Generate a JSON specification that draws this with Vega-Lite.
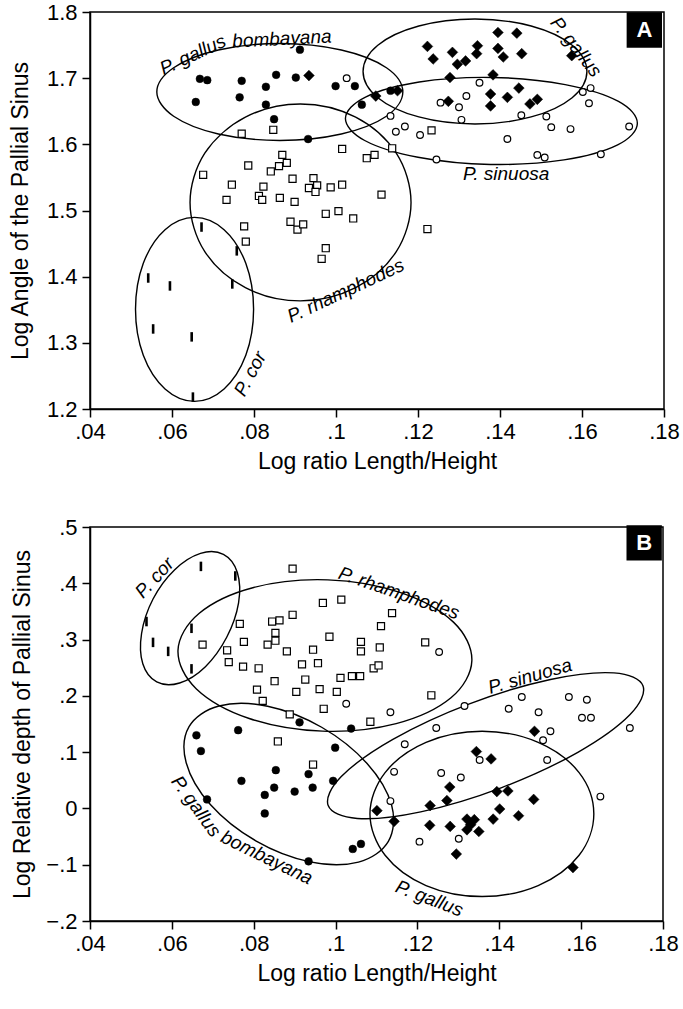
{
"$schema": "https://vega.github.io/schema/vega-lite/v6.json",
"background": "white",
"padding": {"left": 8, "top": 0, "right": 5, "bottom": 5},
"config": {
  "font": "Liberation Sans",
  "view": {"stroke": "black", "strokeWidth": 1.5},
  "axis": {"grid": false, "domainColor": "black", "domainWidth": 1.5, "tickColor": "black", "tickWidth": 1.5, "tickSize": 8, "labelColor": "black", "titleColor": "black", "labelFont": "Liberation Sans", "titleFont": "Liberation Sans", "labelFontSize": 22, "titleFontSize": 23, "titleFontWeight": "normal", "labelFlush": false, "labelOverlap": false},
  "axisX": {"labelAngle": 0},
  "concat": {"spacing": 41}
},
"datasets": {
  "ptsA": [
    {"sp":"bombayana","x":0.0668,"y":1.699},{"sp":"bombayana","x":0.0686,"y":1.697},{"sp":"bombayana","x":0.0658,"y":1.664},{"sp":"bombayana","x":0.0770,"y":1.696},{"sp":"bombayana","x":0.0765,"y":1.671},{"sp":"bombayana","x":0.0829,"y":1.687},{"sp":"bombayana","x":0.0829,"y":1.660},{"sp":"bombayana","x":0.0849,"y":1.638},{"sp":"bombayana","x":0.0854,"y":1.705},{"sp":"bombayana","x":0.0902,"y":1.701},{"sp":"bombayana","x":0.0912,"y":1.743},{"sp":"bombayana","x":0.0932,"y":1.608},{"sp":"bombayana","x":0.0999,"y":1.688},{"sp":"bombayana","x":0.1046,"y":1.688},{"sp":"bombayana","x":0.1063,"y":1.660},{"sp":"bombayana","x":0.1133,"y":1.681},
    {"sp":"gallus","x":0.0934,"y":1.704},{"sp":"gallus","x":0.1097,"y":1.673},{"sp":"gallus","x":0.1150,"y":1.681},{"sp":"gallus","x":0.1395,"y":1.769},{"sp":"gallus","x":0.1441,"y":1.768},{"sp":"gallus","x":0.1223,"y":1.748},{"sp":"gallus","x":0.1237,"y":1.729},{"sp":"gallus","x":0.1284,"y":1.739},{"sp":"gallus","x":0.1296,"y":1.721},{"sp":"gallus","x":0.1316,"y":1.726},{"sp":"gallus","x":0.1345,"y":1.749},{"sp":"gallus","x":0.1343,"y":1.737},{"sp":"gallus","x":0.1395,"y":1.745},{"sp":"gallus","x":0.1408,"y":1.732},{"sp":"gallus","x":0.1453,"y":1.737},{"sp":"gallus","x":0.1575,"y":1.734},{"sp":"gallus","x":0.1278,"y":1.701},{"sp":"gallus","x":0.1383,"y":1.705},{"sp":"gallus","x":0.1274,"y":1.665},{"sp":"gallus","x":0.1377,"y":1.676},{"sp":"gallus","x":0.1377,"y":1.658},{"sp":"gallus","x":0.1418,"y":1.671},{"sp":"gallus","x":0.1446,"y":1.685},{"sp":"gallus","x":0.1473,"y":1.661},{"sp":"gallus","x":0.1491,"y":1.668},
    {"sp":"sinuosa","x":0.1026,"y":1.700},{"sp":"sinuosa","x":0.1133,"y":1.643},{"sp":"sinuosa","x":0.1146,"y":1.619},{"sp":"sinuosa","x":0.1168,"y":1.627},{"sp":"sinuosa","x":0.1205,"y":1.614},{"sp":"sinuosa","x":0.1245,"y":1.577},{"sp":"sinuosa","x":0.1255,"y":1.663},{"sp":"sinuosa","x":0.1300,"y":1.656},{"sp":"sinuosa","x":0.1318,"y":1.673},{"sp":"sinuosa","x":0.1306,"y":1.637},{"sp":"sinuosa","x":0.1350,"y":1.693},{"sp":"sinuosa","x":0.1418,"y":1.608},{"sp":"sinuosa","x":0.1452,"y":1.644},{"sp":"sinuosa","x":0.1513,"y":1.642},{"sp":"sinuosa","x":0.1525,"y":1.626},{"sp":"sinuosa","x":0.1572,"y":1.623},{"sp":"sinuosa","x":0.1491,"y":1.584},{"sp":"sinuosa","x":0.1509,"y":1.580},{"sp":"sinuosa","x":0.1602,"y":1.679},{"sp":"sinuosa","x":0.1621,"y":1.685},{"sp":"sinuosa","x":0.1617,"y":1.662},{"sp":"sinuosa","x":0.1646,"y":1.585},{"sp":"sinuosa","x":0.1715,"y":1.627},
    {"sp":"rhamphodes","x":0.0770,"y":1.616},{"sp":"rhamphodes","x":0.0847,"y":1.622},{"sp":"rhamphodes","x":0.1015,"y":1.593},{"sp":"rhamphodes","x":0.0676,"y":1.554},{"sp":"rhamphodes","x":0.0786,"y":1.568},{"sp":"rhamphodes","x":0.0869,"y":1.584},{"sp":"rhamphodes","x":0.0880,"y":1.572},{"sp":"rhamphodes","x":0.0861,"y":1.567},{"sp":"rhamphodes","x":0.0841,"y":1.559},{"sp":"rhamphodes","x":0.0746,"y":1.539},{"sp":"rhamphodes","x":0.0823,"y":1.536},{"sp":"rhamphodes","x":0.0894,"y":1.548},{"sp":"rhamphodes","x":0.0945,"y":1.549},{"sp":"rhamphodes","x":0.0934,"y":1.534},{"sp":"rhamphodes","x":0.0954,"y":1.538},{"sp":"rhamphodes","x":0.0950,"y":1.528},{"sp":"rhamphodes","x":0.0987,"y":1.535},{"sp":"rhamphodes","x":0.1015,"y":1.539},{"sp":"rhamphodes","x":0.0733,"y":1.516},{"sp":"rhamphodes","x":0.0812,"y":1.522},{"sp":"rhamphodes","x":0.0820,"y":1.516},{"sp":"rhamphodes","x":0.0863,"y":1.519},{"sp":"rhamphodes","x":0.0899,"y":1.513},{"sp":"rhamphodes","x":0.0975,"y":1.495},{"sp":"rhamphodes","x":0.1006,"y":1.499},{"sp":"rhamphodes","x":0.1042,"y":1.488},{"sp":"rhamphodes","x":0.0776,"y":1.476},{"sp":"rhamphodes","x":0.0780,"y":1.453},{"sp":"rhamphodes","x":0.0889,"y":1.483},{"sp":"rhamphodes","x":0.0906,"y":1.471},{"sp":"rhamphodes","x":0.0920,"y":1.479},{"sp":"rhamphodes","x":0.0975,"y":1.443},{"sp":"rhamphodes","x":0.0965,"y":1.427},{"sp":"rhamphodes","x":0.1111,"y":1.524},{"sp":"rhamphodes","x":0.1223,"y":1.472},{"sp":"rhamphodes","x":0.1233,"y":1.621},{"sp":"rhamphodes","x":0.1137,"y":1.594},{"sp":"rhamphodes","x":0.1075,"y":1.579},{"sp":"rhamphodes","x":0.1094,"y":1.584},
    {"sp":"cor","x":0.0672,"y":1.475},{"sp":"cor","x":0.0758,"y":1.439},{"sp":"cor","x":0.0542,"y":1.398},{"sp":"cor","x":0.0595,"y":1.386},{"sp":"cor","x":0.0747,"y":1.389},{"sp":"cor","x":0.0554,"y":1.321},{"sp":"cor","x":0.0648,"y":1.309},{"sp":"cor","x":0.0651,"y":1.218}
  ],
  "ptsB": [
    {"sp":"cor","x":0.0671,"y":0.430},{"sp":"cor","x":0.0755,"y":0.413},{"sp":"cor","x":0.0538,"y":0.332},{"sp":"cor","x":0.0554,"y":0.295},{"sp":"cor","x":0.0591,"y":0.279},{"sp":"cor","x":0.0648,"y":0.320},{"sp":"cor","x":0.0648,"y":0.248},
    {"sp":"rhamphodes","x":0.0895,"y":0.426},{"sp":"rhamphodes","x":0.0969,"y":0.365},{"sp":"rhamphodes","x":0.1014,"y":0.371},{"sp":"rhamphodes","x":0.0766,"y":0.328},{"sp":"rhamphodes","x":0.0845,"y":0.332},{"sp":"rhamphodes","x":0.0863,"y":0.334},{"sp":"rhamphodes","x":0.0895,"y":0.344},{"sp":"rhamphodes","x":0.0853,"y":0.312},{"sp":"rhamphodes","x":0.0853,"y":0.298},{"sp":"rhamphodes","x":0.0834,"y":0.291},{"sp":"rhamphodes","x":0.0776,"y":0.296},{"sp":"rhamphodes","x":0.0675,"y":0.291},{"sp":"rhamphodes","x":0.0735,"y":0.281},{"sp":"rhamphodes","x":0.0881,"y":0.279},{"sp":"rhamphodes","x":0.0945,"y":0.282},{"sp":"rhamphodes","x":0.0985,"y":0.305},{"sp":"rhamphodes","x":0.1062,"y":0.296},{"sp":"rhamphodes","x":0.1062,"y":0.279},{"sp":"rhamphodes","x":0.0739,"y":0.260},{"sp":"rhamphodes","x":0.0774,"y":0.252},{"sp":"rhamphodes","x":0.0812,"y":0.249},{"sp":"rhamphodes","x":0.0918,"y":0.256},{"sp":"rhamphodes","x":0.0957,"y":0.258},{"sp":"rhamphodes","x":0.0851,"y":0.226},{"sp":"rhamphodes","x":0.0926,"y":0.229},{"sp":"rhamphodes","x":0.1012,"y":0.232},{"sp":"rhamphodes","x":0.1040,"y":0.235},{"sp":"rhamphodes","x":0.1060,"y":0.235},{"sp":"rhamphodes","x":0.0808,"y":0.211},{"sp":"rhamphodes","x":0.0904,"y":0.207},{"sp":"rhamphodes","x":0.0961,"y":0.212},{"sp":"rhamphodes","x":0.1003,"y":0.207},{"sp":"rhamphodes","x":0.0822,"y":0.191},{"sp":"rhamphodes","x":0.0971,"y":0.177},{"sp":"rhamphodes","x":0.1138,"y":0.347},{"sp":"rhamphodes","x":0.1111,"y":0.324},{"sp":"rhamphodes","x":0.1108,"y":0.286},{"sp":"rhamphodes","x":0.1219,"y":0.295},{"sp":"rhamphodes","x":0.1093,"y":0.249},{"sp":"rhamphodes","x":0.1105,"y":0.254},{"sp":"rhamphodes","x":0.1234,"y":0.201},{"sp":"rhamphodes","x":0.1085,"y":0.154},{"sp":"rhamphodes","x":0.0888,"y":0.167},{"sp":"rhamphodes","x":0.0859,"y":0.119},{"sp":"rhamphodes","x":0.0945,"y":0.078},
    {"sp":"sinuosa","x":0.1026,"y":0.186},{"sp":"sinuosa","x":0.1253,"y":0.278},{"sp":"sinuosa","x":0.1134,"y":0.171},{"sp":"sinuosa","x":0.1315,"y":0.182},{"sp":"sinuosa","x":0.1455,"y":0.198},{"sp":"sinuosa","x":0.1570,"y":0.198},{"sp":"sinuosa","x":0.1614,"y":0.193},{"sp":"sinuosa","x":0.1423,"y":0.177},{"sp":"sinuosa","x":0.1496,"y":0.171},{"sp":"sinuosa","x":0.1602,"y":0.161},{"sp":"sinuosa","x":0.1624,"y":0.161},{"sp":"sinuosa","x":0.1719,"y":0.143},{"sp":"sinuosa","x":0.1246,"y":0.143},{"sp":"sinuosa","x":0.1525,"y":0.137},{"sp":"sinuosa","x":0.1507,"y":0.121},{"sp":"sinuosa","x":0.1169,"y":0.114},{"sp":"sinuosa","x":0.1352,"y":0.086},{"sp":"sinuosa","x":0.1517,"y":0.086},{"sp":"sinuosa","x":0.1143,"y":0.065},{"sp":"sinuosa","x":0.1258,"y":0.063},{"sp":"sinuosa","x":0.1306,"y":0.055},{"sp":"sinuosa","x":0.1647,"y":0.021},{"sp":"sinuosa","x":0.1134,"y":0.013},{"sp":"sinuosa","x":0.1301,"y":-0.054},{"sp":"sinuosa","x":0.1205,"y":-0.059},
    {"sp":"bombayana","x":0.0912,"y":0.153},{"sp":"bombayana","x":0.1038,"y":0.142},{"sp":"bombayana","x":0.0660,"y":0.130},{"sp":"bombayana","x":0.0762,"y":0.139},{"sp":"bombayana","x":0.0671,"y":0.102},{"sp":"bombayana","x":0.0999,"y":0.108},{"sp":"bombayana","x":0.0854,"y":0.068},{"sp":"bombayana","x":0.0934,"y":0.061},{"sp":"bombayana","x":0.0770,"y":0.049},{"sp":"bombayana","x":0.0850,"y":0.037},{"sp":"bombayana","x":0.0944,"y":0.037},{"sp":"bombayana","x":0.0900,"y":0.030},{"sp":"bombayana","x":0.0827,"y":0.024},{"sp":"bombayana","x":0.0994,"y":0.049},{"sp":"bombayana","x":0.0686,"y":0.016},{"sp":"bombayana","x":0.0827,"y":-0.009},{"sp":"bombayana","x":0.1062,"y":-0.063},{"sp":"bombayana","x":0.1042,"y":-0.072},{"sp":"bombayana","x":0.0934,"y":-0.094},
    {"sp":"gallus","x":0.1486,"y":0.137},{"sp":"gallus","x":0.1344,"y":0.101},{"sp":"gallus","x":0.1380,"y":0.088},{"sp":"gallus","x":0.1279,"y":0.038},{"sp":"gallus","x":0.1394,"y":0.030},{"sp":"gallus","x":0.1421,"y":0.031},{"sp":"gallus","x":0.1272,"y":0.014},{"sp":"gallus","x":0.1484,"y":0.016},{"sp":"gallus","x":0.1231,"y":0.005},{"sp":"gallus","x":0.1101,"y":-0.004},{"sp":"gallus","x":0.1401,"y":-0.001},{"sp":"gallus","x":0.1447,"y":-0.013},{"sp":"gallus","x":0.1143,"y":-0.023},{"sp":"gallus","x":0.1230,"y":-0.030},{"sp":"gallus","x":0.1280,"y":-0.032},{"sp":"gallus","x":0.1321,"y":-0.019},{"sp":"gallus","x":0.1339,"y":-0.020},{"sp":"gallus","x":0.1321,"y":-0.038},{"sp":"gallus","x":0.1350,"y":-0.041},{"sp":"gallus","x":0.1385,"y":-0.019},{"sp":"gallus","x":0.1295,"y":-0.081},{"sp":"gallus","x":0.1580,"y":-0.105},{"sp":"gallus","x":0.1330,"y":-0.029}
  ],
  "ellA": [
    {"g":"bombayana","i":0,"x":0.1163,"y":1.6792},{"g":"bombayana","i":1,"x":0.1123,"y":1.6425},{"g":"bombayana","i":2,"x":0.1013,"y":1.6157},{"g":"bombayana","i":3,"x":0.0863,"y":1.6059},{"g":"bombayana","i":4,"x":0.0713,"y":1.6157},{"g":"bombayana","i":5,"x":0.0604,"y":1.6425},{"g":"bombayana","i":6,"x":0.0563,"y":1.6792},{"g":"bombayana","i":7,"x":0.0604,"y":1.7158},{"g":"bombayana","i":8,"x":0.0713,"y":1.7426},{"g":"bombayana","i":9,"x":0.0863,"y":1.7524},{"g":"bombayana","i":10,"x":0.1013,"y":1.7426},{"g":"bombayana","i":11,"x":0.1123,"y":1.7158},
    {"g":"gallus","i":0,"x":0.1612,"y":1.7101},{"g":"gallus","i":1,"x":0.1576,"y":1.6705},{"g":"gallus","i":2,"x":0.1476,"y":1.6414},{"g":"gallus","i":3,"x":0.1339,"y":1.6308},{"g":"gallus","i":4,"x":0.1202,"y":1.6414},{"g":"gallus","i":5,"x":0.1102,"y":1.6705},{"g":"gallus","i":6,"x":0.1066,"y":1.7101},{"g":"gallus","i":7,"x":0.1102,"y":1.7498},{"g":"gallus","i":8,"x":0.1202,"y":1.7788},{"g":"gallus","i":9,"x":0.1339,"y":1.7894},{"g":"gallus","i":10,"x":0.1476,"y":1.7788},{"g":"gallus","i":11,"x":0.1576,"y":1.7498},
    {"g":"sinuosa","i":0,"x":0.1735,"y":1.6315},{"g":"sinuosa","i":1,"x":0.1687,"y":1.5992},{"g":"sinuosa","i":2,"x":0.1556,"y":1.5765},{"g":"sinuosa","i":3,"x":0.1377,"y":1.5696},{"g":"sinuosa","i":4,"x":0.1200,"y":1.5804},{"g":"sinuosa","i":5,"x":0.1070,"y":1.6058},{"g":"sinuosa","i":6,"x":0.1023,"y":1.6392},{"g":"sinuosa","i":7,"x":0.1072,"y":1.6715},{"g":"sinuosa","i":8,"x":0.1203,"y":1.6942},{"g":"sinuosa","i":9,"x":0.1381,"y":1.7011},{"g":"sinuosa","i":10,"x":0.1559,"y":1.6903},{"g":"sinuosa","i":11,"x":0.1689,"y":1.6649},
    {"g":"rhamphodes","i":0,"x":0.1183,"y":1.5122},{"g":"rhamphodes","i":1,"x":0.1147,"y":1.4378},{"g":"rhamphodes","i":2,"x":0.1048,"y":1.3834},{"g":"rhamphodes","i":3,"x":0.0913,"y":1.3634},{"g":"rhamphodes","i":4,"x":0.0779,"y":1.3834},{"g":"rhamphodes","i":5,"x":0.0680,"y":1.4378},{"g":"rhamphodes","i":6,"x":0.0644,"y":1.5122},{"g":"rhamphodes","i":7,"x":0.0680,"y":1.5866},{"g":"rhamphodes","i":8,"x":0.0779,"y":1.6411},{"g":"rhamphodes","i":9,"x":0.0913,"y":1.6610},{"g":"rhamphodes","i":10,"x":0.1048,"y":1.6411},{"g":"rhamphodes","i":11,"x":0.1147,"y":1.5866},
    {"g":"cor","i":0,"x":0.0799,"y":1.3506},{"g":"cor","i":1,"x":0.0780,"y":1.2811},{"g":"cor","i":2,"x":0.0727,"y":1.2303},{"g":"cor","i":3,"x":0.0655,"y":1.2116},{"g":"cor","i":4,"x":0.0583,"y":1.2303},{"g":"cor","i":5,"x":0.0530,"y":1.2811},{"g":"cor","i":6,"x":0.0511,"y":1.3506},{"g":"cor","i":7,"x":0.0530,"y":1.4201},{"g":"cor","i":8,"x":0.0583,"y":1.4710},{"g":"cor","i":9,"x":0.0655,"y":1.4896},{"g":"cor","i":10,"x":0.0727,"y":1.4710},{"g":"cor","i":11,"x":0.0780,"y":1.4201}
  ],
  "ellB": [
    {"g":"cor","i":0,"x":0.0726,"y":0.4514},{"g":"cor","i":1,"x":0.0760,"y":0.4192},{"g":"cor","i":2,"x":0.0763,"y":0.3653},{"g":"cor","i":3,"x":0.0734,"y":0.3041},{"g":"cor","i":4,"x":0.0682,"y":0.2519},{"g":"cor","i":5,"x":0.0619,"y":0.2229},{"g":"cor","i":6,"x":0.0563,"y":0.2247},{"g":"cor","i":7,"x":0.0529,"y":0.2569},{"g":"cor","i":8,"x":0.0526,"y":0.3108},{"g":"cor","i":9,"x":0.0554,"y":0.3721},{"g":"cor","i":10,"x":0.0607,"y":0.4242},{"g":"cor","i":11,"x":0.0670,"y":0.4532},
    {"g":"rhamphodes","i":0,"x":0.1333,"y":0.2626},{"g":"rhamphodes","i":1,"x":0.1282,"y":0.1966},{"g":"rhamphodes","i":2,"x":0.1148,"y":0.1507},{"g":"rhamphodes","i":3,"x":0.0968,"y":0.1373},{"g":"rhamphodes","i":4,"x":0.0789,"y":0.1598},{"g":"rhamphodes","i":5,"x":0.0660,"y":0.2123},{"g":"rhamphodes","i":6,"x":0.0615,"y":0.2808},{"g":"rhamphodes","i":7,"x":0.0667,"y":0.3468},{"g":"rhamphodes","i":8,"x":0.0800,"y":0.3926},{"g":"rhamphodes","i":9,"x":0.0981,"y":0.4061},{"g":"rhamphodes","i":10,"x":0.1159,"y":0.3835},{"g":"rhamphodes","i":11,"x":0.1288,"y":0.3310},
    {"g":"sinuosa","i":0,"x":0.1751,"y":0.2179},{"g":"sinuosa","i":1,"x":0.1719,"y":0.1664},{"g":"sinuosa","i":2,"x":0.1593,"y":0.1002},{"g":"sinuosa","i":3,"x":0.1406,"y":0.0371},{"g":"sinuosa","i":4,"x":0.1208,"y":-0.0061},{"g":"sinuosa","i":5,"x":0.1053,"y":-0.0178},{"g":"sinuosa","i":6,"x":0.0982,"y":0.0051},{"g":"sinuosa","i":7,"x":0.1014,"y":0.0566},{"g":"sinuosa","i":8,"x":0.1140,"y":0.1228},{"g":"sinuosa","i":9,"x":0.1327,"y":0.1859},{"g":"sinuosa","i":10,"x":0.1525,"y":0.2291},{"g":"sinuosa","i":11,"x":0.1680,"y":0.2408},
    {"g":"bombayana","i":0,"x":0.1129,"y":-0.0585},{"g":"bombayana","i":1,"x":0.1056,"y":-0.0953},{"g":"bombayana","i":2,"x":0.0938,"y":-0.0949},{"g":"bombayana","i":3,"x":0.0805,"y":-0.0575},{"g":"bombayana","i":4,"x":0.0694,"y":0.0070},{"g":"bombayana","i":5,"x":0.0635,"y":0.0812},{"g":"bombayana","i":6,"x":0.0642,"y":0.1452},{"g":"bombayana","i":7,"x":0.0715,"y":0.1820},{"g":"bombayana","i":8,"x":0.0834,"y":0.1816},{"g":"bombayana","i":9,"x":0.0966,"y":0.1442},{"g":"bombayana","i":10,"x":0.1077,"y":0.0798},{"g":"bombayana","i":11,"x":0.1137,"y":0.0056},
    {"g":"gallus","i":0,"x":0.1631,"y":-0.0097},{"g":"gallus","i":1,"x":0.1595,"y":-0.0832},{"g":"gallus","i":2,"x":0.1495,"y":-0.1370},{"g":"gallus","i":3,"x":0.1358,"y":-0.1566},{"g":"gallus","i":4,"x":0.1221,"y":-0.1370},{"g":"gallus","i":5,"x":0.1121,"y":-0.0832},{"g":"gallus","i":6,"x":0.1084,"y":-0.0097},{"g":"gallus","i":7,"x":0.1121,"y":0.0637},{"g":"gallus","i":8,"x":0.1221,"y":0.1175},{"g":"gallus","i":9,"x":0.1358,"y":0.1372},{"g":"gallus","i":10,"x":0.1495,"y":0.1175},{"g":"gallus","i":11,"x":0.1595,"y":0.0637}
  ],
  "labA": [
    {"id":"a1","t":"P. gallus","x":0.0651,"y":1.735},
    {"id":"a2","t":"bombayana","x":0.0868,"y":1.7592},
    {"id":"a3","t":"P. gallus","x":0.1585,"y":1.7471},
    {"id":"a4","t":"P. sinuosa","x":0.1415,"y":1.5553},
    {"id":"a5","t":"P. rhamphodes","x":0.1024,"y":1.3786},
    {"id":"a6","t":"P. cor","x":0.0791,"y":1.2532},
    {"id":"box","t":"A","x":0.1752,"y":1.7728}
  ],
  "labB": [
    {"id":"b1","t":"P. cor","x":0.0558,"y":0.4097},
    {"id":"b2","t":"P. rhamphodes","x":0.1155,"y":0.3823},
    {"id":"b3","t":"P. sinuosa","x":0.1475,"y":0.2345},
    {"id":"b4","t":"P. gallus","x":0.0659,"y":0.0035},
    {"id":"b5","t":"bombayana","x":0.0832,"y":-0.0876},
    {"id":"b6","t":"P. gallus","x":0.1229,"y":-0.1602},
    {"id":"box","t":"B","x":0.1754,"y":0.4717}
  ]
},
"vconcat": [
  {
    "width": 574, "height": 397,
    "encoding": {
      "x": {"field":"x","type":"quantitative","scale":{"domain":[0.04,0.18],"nice":false,"zero":false},"axis":{"title":"Log ratio Length/Height","values":[0.04,0.06,0.08,0.1,0.12,0.14,0.16,0.18],"labelExpr":"replace(format(datum.value, '.2~f'), '0.', '.')","labelPadding":4,"titlePadding":8}},
      "y": {"field":"y","type":"quantitative","scale":{"domain":[1.2,1.8],"nice":false,"zero":false},"axis":{"title":"Log Angle of the Pallial Sinus","values":[1.2,1.3,1.4,1.5,1.6,1.7,1.8],"format":".1f","labelPadding":5,"titlePadding":14}}
    },
    "layer": [
      {"data":{"name":"ellA"},"mark":{"type":"line","interpolate":"cardinal-closed","stroke":"black","strokeWidth":1.4},"encoding":{"detail":{"field":"g"},"order":{"field":"i","type":"quantitative"}}},
      {"data":{"name":"ptsA"},"transform":[{"filter":"datum.sp=='bombayana'"}],"mark":{"type":"point","shape":"circle","filled":true,"fill":"black","stroke":"black","strokeWidth":0.5,"size":60,"opacity":1}},
      {"data":{"name":"ptsA"},"transform":[{"filter":"datum.sp=='gallus'"}],"mark":{"type":"point","shape":"diamond","filled":true,"fill":"black","stroke":"black","strokeWidth":0.5,"size":115,"opacity":1}},
      {"data":{"name":"ptsA"},"transform":[{"filter":"datum.sp=='sinuosa'"}],"mark":{"type":"point","shape":"circle","filled":true,"fill":"white","stroke":"black","strokeWidth":1.2,"size":45,"opacity":1}},
      {"data":{"name":"ptsA"},"transform":[{"filter":"datum.sp=='rhamphodes'"}],"mark":{"type":"point","shape":"square","filled":true,"fill":"white","stroke":"black","strokeWidth":1.2,"size":50,"opacity":1}},
      {"data":{"name":"ptsA"},"transform":[{"filter":"datum.sp=='cor'"}],"mark":{"type":"point","shape":"M0,-1L0,1","filled":false,"stroke":"black","strokeWidth":2.6,"size":90,"opacity":1}},
      {"data":{"name":"labA"},"transform":[{"filter":"datum.id=='a1'"}],"mark":{"type":"text","angle":-25,"fontStyle":"italic","fontSize":19,"color":"black"},"encoding":{"text":{"field":"t"}}},
      {"data":{"name":"labA"},"transform":[{"filter":"datum.id=='a2'"}],"mark":{"type":"text","angle":-3,"fontStyle":"italic","fontSize":19,"color":"black"},"encoding":{"text":{"field":"t"}}},
      {"data":{"name":"labA"},"transform":[{"filter":"datum.id=='a3'"}],"mark":{"type":"text","angle":52,"fontStyle":"italic","fontSize":19,"color":"black"},"encoding":{"text":{"field":"t"}}},
      {"data":{"name":"labA"},"transform":[{"filter":"datum.id=='a4'"}],"mark":{"type":"text","angle":0,"fontStyle":"italic","fontSize":19,"color":"black"},"encoding":{"text":{"field":"t"}}},
      {"data":{"name":"labA"},"transform":[{"filter":"datum.id=='a5'"}],"mark":{"type":"text","angle":-25,"fontStyle":"italic","fontSize":19,"color":"black"},"encoding":{"text":{"field":"t"}}},
      {"data":{"name":"labA"},"transform":[{"filter":"datum.id=='a6'"}],"mark":{"type":"text","angle":-62,"fontStyle":"italic","fontSize":19,"color":"black"},"encoding":{"text":{"field":"t"}}},
      {"data":{"name":"labA"},"transform":[{"filter":"datum.id=='box'"}],"mark":{"type":"point","shape":"square","filled":true,"fill":"black","size":1250,"opacity":1}},
      {"data":{"name":"labA"},"transform":[{"filter":"datum.id=='box'"}],"mark":{"type":"text","fontWeight":"bold","fontSize":22,"color":"white"},"encoding":{"text":{"field":"t"}}}
    ]
  },
  {
    "width": 573, "height": 394,
    "encoding": {
      "x": {"field":"x","type":"quantitative","scale":{"domain":[0.04,0.18],"nice":false,"zero":false},"axis":{"title":"Log ratio Length/Height","values":[0.04,0.06,0.08,0.1,0.12,0.14,0.16,0.18],"labelExpr":"replace(format(datum.value, '.2~f'), '0.', '.')","labelPadding":4,"titlePadding":8}},
      "y": {"field":"y","type":"quantitative","scale":{"domain":[-0.2,0.5],"nice":false,"zero":false},"axis":{"title":"Log Relative depth of Pallial Sinus","values":[-0.2,-0.1,0,0.1,0.2,0.3,0.4,0.5],"labelExpr":"replace(format(datum.value, '.1~f'), '0.', '.')","labelPadding":5,"titlePadding":11}}
    },
    "layer": [
      {"data":{"name":"ellB"},"mark":{"type":"line","interpolate":"cardinal-closed","stroke":"black","strokeWidth":1.4},"encoding":{"detail":{"field":"g"},"order":{"field":"i","type":"quantitative"}}},
      {"data":{"name":"ptsB"},"transform":[{"filter":"datum.sp=='bombayana'"}],"mark":{"type":"point","shape":"circle","filled":true,"fill":"black","stroke":"black","strokeWidth":0.5,"size":60,"opacity":1}},
      {"data":{"name":"ptsB"},"transform":[{"filter":"datum.sp=='gallus'"}],"mark":{"type":"point","shape":"diamond","filled":true,"fill":"black","stroke":"black","strokeWidth":0.5,"size":115,"opacity":1}},
      {"data":{"name":"ptsB"},"transform":[{"filter":"datum.sp=='sinuosa'"}],"mark":{"type":"point","shape":"circle","filled":true,"fill":"white","stroke":"black","strokeWidth":1.2,"size":45,"opacity":1}},
      {"data":{"name":"ptsB"},"transform":[{"filter":"datum.sp=='rhamphodes'"}],"mark":{"type":"point","shape":"square","filled":true,"fill":"white","stroke":"black","strokeWidth":1.2,"size":50,"opacity":1}},
      {"data":{"name":"ptsB"},"transform":[{"filter":"datum.sp=='cor'"}],"mark":{"type":"point","shape":"M0,-1L0,1","filled":false,"stroke":"black","strokeWidth":2.6,"size":90,"opacity":1}},
      {"data":{"name":"labB"},"transform":[{"filter":"datum.id=='b1'"}],"mark":{"type":"text","angle":-47,"fontStyle":"italic","fontSize":19,"color":"black"},"encoding":{"text":{"field":"t"}}},
      {"data":{"name":"labB"},"transform":[{"filter":"datum.id=='b2'"}],"mark":{"type":"text","angle":19,"fontStyle":"italic","fontSize":19,"color":"black"},"encoding":{"text":{"field":"t"}}},
      {"data":{"name":"labB"},"transform":[{"filter":"datum.id=='b3'"}],"mark":{"type":"text","angle":-16,"fontStyle":"italic","fontSize":19,"color":"black"},"encoding":{"text":{"field":"t"}}},
      {"data":{"name":"labB"},"transform":[{"filter":"datum.id=='b4'"}],"mark":{"type":"text","angle":54,"fontStyle":"italic","fontSize":19,"color":"black"},"encoding":{"text":{"field":"t"}}},
      {"data":{"name":"labB"},"transform":[{"filter":"datum.id=='b5'"}],"mark":{"type":"text","angle":26,"fontStyle":"italic","fontSize":19,"color":"black"},"encoding":{"text":{"field":"t"}}},
      {"data":{"name":"labB"},"transform":[{"filter":"datum.id=='b6'"}],"mark":{"type":"text","angle":21,"fontStyle":"italic","fontSize":19,"color":"black"},"encoding":{"text":{"field":"t"}}},
      {"data":{"name":"labB"},"transform":[{"filter":"datum.id=='box'"}],"mark":{"type":"point","shape":"square","filled":true,"fill":"black","size":1250,"opacity":1}},
      {"data":{"name":"labB"},"transform":[{"filter":"datum.id=='box'"}],"mark":{"type":"text","fontWeight":"bold","fontSize":22,"color":"white"},"encoding":{"text":{"field":"t"}}}
    ]
  }
]
}
